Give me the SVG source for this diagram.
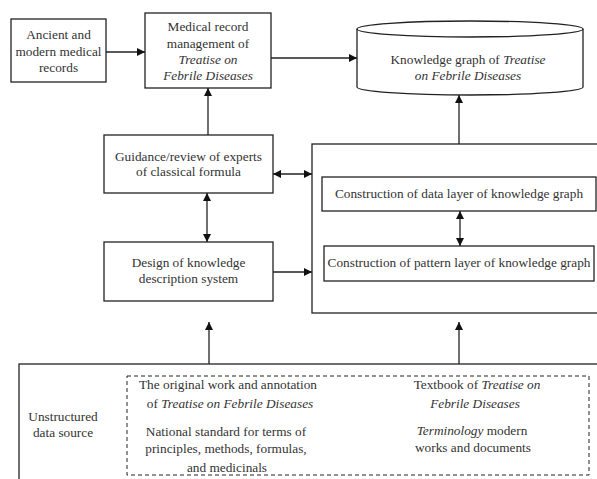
<svg xmlns="http://www.w3.org/2000/svg" width="597" height="479" viewBox="0 0 597 479">
<style>
text{font-family:"Liberation Serif","Times New Roman","DejaVu Serif",serif;font-size:13.3px;fill:#333;text-anchor:middle}
.i{font-style:italic}
.b{fill:#fff;stroke:#222;stroke-width:1.3}
.c{fill:none;stroke:#222;stroke-width:1.3}
.d{fill:none;stroke:#222;stroke-width:1;stroke-dasharray:4,3}
</style>
<defs>
<marker id="a" viewBox="0 0 10 10" refX="10" refY="5" markerWidth="8" markerHeight="8" markerUnits="userSpaceOnUse" orient="auto-start-reverse"><path d="M0,0L10,5L0,10z" fill="#111"/></marker>
</defs>
<rect width="597" height="479" fill="#fff"/>
<g id="records"><rect class="b" x="11" y="19" width="95" height="63"/><text x="58.5" y="39">Ancient and</text><text x="58.5" y="56">modern medical</text><text x="58.5" y="72">records</text></g>
<g id="management"><rect class="b" x="145" y="13" width="126" height="75"/><text x="208" y="31">Medical record</text><text x="208" y="48">management of</text><text x="208" y="64" class="i">Treatise on</text><text x="208" y="80" class="i">Febrile Diseases</text></g>
<g id="kg"><path class="b" d="M357,29 L357,87 A113,8 0 0 0 583,87 L583,29"/><ellipse class="b" cx="470" cy="29" rx="113" ry="8"/><text x="468" y="64">Knowledge graph of <tspan class="i">Treatise</tspan></text><text x="468" y="80" class="i">on Febrile Diseases</text></g>
<g id="guidance"><rect class="b" x="104" y="135" width="169" height="58"/><text x="188.5" y="161">Guidance/review of experts</text><text x="188.5" y="176">of classical formula</text></g>
<g id="design"><rect class="b" x="104" y="242" width="169" height="59"/><text x="188.5" y="267">Design of knowledge</text><text x="188.5" y="283">description system</text></g>
<g id="construction"><rect class="b" x="312" y="144" width="300" height="169"/>
<g id="datalayer"><rect class="b" x="322" y="177" width="274" height="34"/><text x="459" y="198">Construction of data layer of knowledge graph</text></g>
<g id="patternlayer"><rect class="b" x="324" y="246" width="270" height="35"/><text x="459" y="267">Construction of pattern layer of knowledge graph</text></g></g>
<g id="source"><rect class="b" x="19" y="364" width="600" height="130"/><text x="63" y="421">Unstructured</text><text x="63" y="437">data source</text>
<rect class="d" x="127" y="376" width="462" height="99"/>
<text x="228" y="389">The original work and annotation</text><text x="230" y="408">of <tspan class="i">Treatise on Febrile Diseases</tspan></text>
<text x="226" y="436">National standard for terms of</text><text x="226" y="453">principles, methods, formulas,</text><text x="227" y="472">and medicinals</text>
<text x="477" y="389">Textbook of <tspan class="i">Treatise on</tspan></text><text x="475" y="408" class="i">Febrile Diseases</text>
<text x="472" y="435"><tspan class="i">Terminology</tspan> modern</text><text x="473" y="452">works and documents</text></g>
<g id="connectors">
<line class="c" x1="106" y1="52" x2="145" y2="52" marker-end="url(#a)"/>
<line class="c" x1="271" y1="58" x2="357" y2="58" marker-end="url(#a)"/>
<line class="c" x1="208" y1="135" x2="208" y2="88" marker-end="url(#a)"/>
<line class="c" x1="459" y1="144" x2="459" y2="95" marker-end="url(#a)"/>
<line class="c" x1="207" y1="193" x2="207" y2="242" marker-start="url(#a)" marker-end="url(#a)"/>
<line class="c" x1="273" y1="174" x2="312" y2="174" marker-start="url(#a)" marker-end="url(#a)"/>
<line class="c" x1="273" y1="272" x2="312" y2="272" marker-end="url(#a)"/>
<line class="c" x1="460" y1="211" x2="460" y2="246" marker-start="url(#a)" marker-end="url(#a)"/>
<line class="c" x1="209" y1="364" x2="209" y2="322" marker-end="url(#a)"/>
<line class="c" x1="459" y1="364" x2="459" y2="322" marker-end="url(#a)"/>
</g>
</svg>
